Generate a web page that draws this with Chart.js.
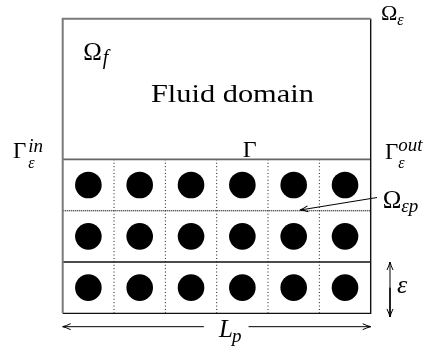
<!DOCTYPE html>
<html>
<head>
<meta charset="utf-8">
<script src="https://cdn.jsdelivr.net/npm/chart.js@4"></script>
<style>
  html, body { margin: 0; padding: 0; background: #fff; }
  #wrap { width: 429px; height: 347px; }
</style>
</head>
<body>
<div id="wrap"><canvas id="c"></canvas></div>
<script>
// Geometry of the periodic porous layer, in units of one cell (side ε)
const cellColumns = [0, 1, 2, 3, 4, 5];   // left edge of every cell column
const porousRows = [0, 1, 2];             // bottom edge of every porous layer
const cellDividers = [1, 2, 3, 4, 5];     // dotted boundaries between cells
const domainWidth = 6;                    // L_p
const domainHeight = 5.74;                // full height of Ω_ε
const interfaceLevel = 3;                 // Γ, top of the porous part
const solidRowLine = 1;                   // solid separator between layers
const dashedRowLine = 2;                  // Ω_εp boundary
const obstacleOffset = 0.5;               // obstacles sit in the cell centre

// Obstacles: one per cell
const obstacles = [];
porousRows.forEach(r => cellColumns.forEach(c =>
  obstacles.push({ x: c + obstacleOffset, y: r + obstacleOffset })));

function seg(x0, y0, x1, y1) { return [{ x: x0, y: y0 }, { x: x1, y: y1 }]; }

const lineBase = { type: 'line', showLine: true, pointRadius: 0, fill: false, tension: 0, clip: false };

const datasets = [
  { label: 'obstacles', data: obstacles, pointRadius: 13.3, pointBackgroundColor: '#000',
    pointBorderColor: '#000', borderWidth: 0, showLine: false, clip: false },
  // outer boundary of Ω_ε
  Object.assign({}, lineBase, { data: [{ x: 0, y: 0 }, { x: 0, y: domainHeight }, { x: domainWidth, y: domainHeight }],
    borderColor: '#7a7a7a', borderWidth: 2 }),
  Object.assign({}, lineBase, { data: [{ x: 0, y: 0 }, { x: domainWidth, y: 0 }, { x: domainWidth, y: domainHeight }],
    borderColor: '#111', borderWidth: 1.4 }),
  // interface Γ
  Object.assign({}, lineBase, { data: seg(0, interfaceLevel, domainWidth, interfaceLevel),
    borderColor: '#666', borderWidth: 1.6 }),
  // layer separators
  Object.assign({}, lineBase, { data: seg(0, solidRowLine, domainWidth, solidRowLine),
    borderColor: '#111', borderWidth: 1.3 }),
  Object.assign({}, lineBase, { data: seg(0, dashedRowLine, domainWidth, dashedRowLine),
    borderColor: '#222', borderWidth: 1.4, borderDash: [1, 1] })
];
cellDividers.forEach(x => datasets.push(Object.assign({}, lineBase, {
  data: seg(x, 0, x, interfaceLevel), borderColor: '#111', borderWidth: 1, borderDash: [1, 2.4] })));

// Dimension arrows: L_p (split around its label), ε, and the Ω_εp pointer
const lpLevel = -0.26;
const arrows = [
  { from: { x: 2.75, y: lpLevel }, to: { x: 0, y: lpLevel } },
  { from: { x: 3.62, y: lpLevel }, to: { x: domainWidth, y: lpLevel } },
  { from: { x: 6.376, y: 0.5 }, to: { x: 6.376, y: 1.0 } },
  { from: { x: 6.376, y: 0.5 }, to: { x: 6.376, y: -0.07 } },
  { from: { x: 6.123, y: 2.256 }, to: { x: 4.623, y: 2.012 } }
];
arrows.forEach(a => datasets.push(Object.assign({}, lineBase, {
  data: [a.from, a.to], borderColor: '#000', borderWidth: 1 })));

const SERIF = '"Liberation Serif", "Times New Roman", serif';

function drawHead(ctx, p0, p1) {
  const ang = Math.atan2(p1.y - p0.y, p1.x - p0.x);
  const len = 8, half = 3;
  ctx.save();
  ctx.translate(p1.x, p1.y);
  ctx.rotate(ang);
  ctx.strokeStyle = '#000';
  ctx.lineWidth = 1;
  ctx.beginPath();
  ctx.moveTo(0, 0);
  ctx.quadraticCurveTo(-len * 0.45, -half * 0.3, -len, -half);
  ctx.moveTo(0, 0);
  ctx.quadraticCurveTo(-len * 0.45, half * 0.3, -len, half);
  ctx.stroke();
  ctx.restore();
}

// A symbol with optional subscript / superscript
function mathTerm(ctx, x, y, o) {
  ctx.font = o.font;
  ctx.fillText(o.base, x, y);
  const w = ctx.measureText(o.base).width;
  const sx = x + w + (o.kern || 0);
  if (o.sup) { ctx.font = o.supFont || o.subFont; ctx.fillText(o.sup, sx + (o.supShift || 0), y - o.supRise); }
  if (o.sub) { ctx.font = o.subFont; ctx.fillText(o.sub, sx, y + o.subDrop); }
}

const labelsPlugin = {
  id: 'labels',
  afterDatasetsDraw(chart) {
    const ctx = chart.ctx, xs = chart.scales.x, ys = chart.scales.y;
    const P = (x, y) => ({ x: xs.getPixelForValue(x), y: ys.getPixelForValue(y) });
    arrows.forEach(a => drawHead(ctx, P(a.from.x, a.from.y), P(a.to.x, a.to.y)));

    ctx.save();
    ctx.fillStyle = '#000';
    ctx.textBaseline = 'alphabetic';
    ctx.textAlign = 'left';

    // Fluid domain title, stretched to the wider roman face
    let p = P(3.306, 4.122);
    ctx.font = '26px ' + SERIF;
    const txt = 'Fluid domain';
    const tw = ctx.measureText(txt).width;
    ctx.save();
    ctx.translate(p.x, p.y);
    ctx.scale(163 / tw, 1);
    ctx.fillText(txt, -tw / 2, 0);
    ctx.restore();

    p = P(0.401, 4.944);
    mathTerm(ctx, p.x, p.y, { base: 'Ω', font: '25px ' + SERIF, sub: 'f', subFont: 'italic 20px ' + SERIF, subDrop: 4, kern: 1 });

    p = P(6.2, 5.715);
    mathTerm(ctx, p.x, p.y, { base: 'Ω', font: '22px ' + SERIF, sub: 'ε', subFont: 'italic 16px ' + SERIF, subDrop: 5, kern: 0 });

    p = P(3.51, 3.045);
    mathTerm(ctx, p.x, p.y, { base: 'Γ', font: '24px ' + SERIF });

    p = P(-0.968, 3.02);
    mathTerm(ctx, p.x, p.y, { base: 'Γ', font: '23px ' + SERIF, sub: 'ε', subFont: 'italic 16px ' + SERIF,
      subDrop: 10, sup: 'in', supFont: 'italic 19px ' + SERIF, supRise: 6, kern: 2 });

    p = P(6.279, 3.006);
    mathTerm(ctx, p.x, p.y, { base: 'Γ', font: '23px ' + SERIF, sub: 'ε', subFont: 'italic 16px ' + SERIF,
      subDrop: 9, sup: 'out', supFont: 'italic 19px ' + SERIF, supRise: 8, kern: 0 });

    p = P(6.234, 2.046);
    mathTerm(ctx, p.x, p.y, { base: 'Ω', font: '25px ' + SERIF, sub: 'εp', subFont: 'italic 19px ' + SERIF, subDrop: 4, kern: 0 });

    p = P(6.512, 0.39);
    mathTerm(ctx, p.x, p.y, { base: 'ε', font: 'italic 26px ' + SERIF });

    p = P(3.045, -0.468);
    mathTerm(ctx, p.x, p.y, { base: 'L', font: 'italic 25px ' + SERIF, sub: 'p', subFont: 'italic 19px ' + SERIF, subDrop: 5, kern: -1 });

    ctx.restore();
  }
};

new Chart(document.getElementById('c'), {
  type: 'scatter',
  data: { datasets },
  options: {
    responsive: true,
    maintainAspectRatio: false,
    animation: false,
    events: [],
    layout: { padding: 0, autoPadding: false },
    plugins: { legend: { display: false }, tooltip: { enabled: false } },
    scales: {
      x: { type: 'linear', display: false, min: -1.2215, max: 7.136 },
      y: { type: 'linear', display: false, min: -0.656, max: 6.104 }
    }
  },
  plugins: [labelsPlugin]
});
</script>
</body>
</html>
